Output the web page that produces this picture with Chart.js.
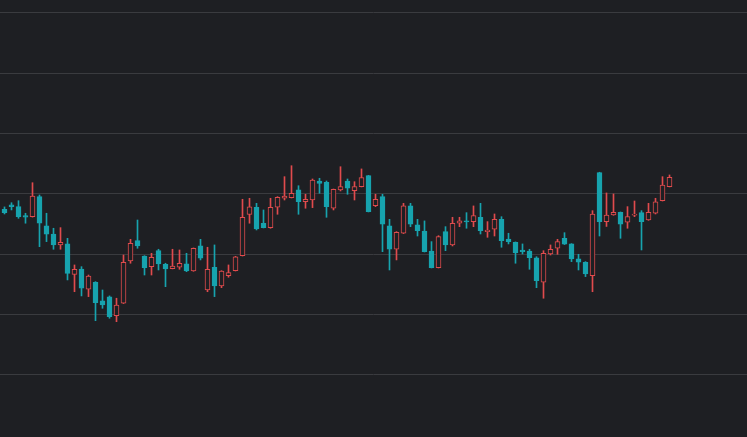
<!DOCTYPE html>
<html>
<head>
<meta charset="utf-8">
<script src="https://cdn.jsdelivr.net/npm/chart.js@4/dist/chart.umd.min.js"></script>
<style>
  html, body { margin: 0; padding: 0; background: #1e1f23; }
  #wrap { width: 747px; height: 437px; position: relative; }
</style>
</head>
<body>
<div id="wrap"><canvas id="chart"></canvas></div>
<script>
// daily candles (red = up, teal = down)
const opens = [
  464.8, 469.1, 467.4, 458.4, 457.4, 477.3, 448.2, 440.2, 429.3, 430.3,
  400.1, 405.4, 385.2, 392.2, 373.6, 377.6, 359.0, 371.3, 413.4, 433.6,
  418.3, 407.7, 423.6, 410.1, 405.7, 407.1, 410.4, 403.4, 428.3, 384.5,
  407.1, 388.5, 398.7, 403.7, 418.6, 459.6, 466.8, 450.9, 446.5, 466.8,
  475.7, 476.3, 484.0, 472.3, 474.0, 492.9, 491.6, 465.8, 484.0, 492.9,
  483.3, 487.3, 498.2, 468.4, 477.3, 448.2, 425.0, 440.9, 468.1, 449.2,
  443.2, 423.3, 406.7, 442.5, 429.3, 450.9, 453.2, 452.5, 456.8, 442.5,
  444.9, 454.8, 435.2, 432.0, 424.3, 423.3, 416.6, 392.2, 420.3, 426.0,
  435.9, 430.3, 415.4, 412.1, 398.7, 501.2, 452.5, 459.1, 461.8, 451.9,
  458.8, 461.4, 454.1, 460.8, 473.3, 487.3
];
const highs = [
  467.1, 471.3, 473.3, 460.8, 491.2, 479.0, 460.8, 445.9, 446.5, 435.9,
  409.4, 407.7, 399.4, 392.8, 384.5, 378.6, 376.3, 419.3, 434.9, 454.1,
  418.6, 421.0, 425.0, 411.1, 425.0, 424.3, 421.0, 426.3, 434.9, 427.0,
  429.3, 403.7, 409.4, 418.0, 474.7, 475.7, 470.7, 464.1, 475.7, 477.3,
  497.2, 508.1, 488.2, 479.7, 494.9, 495.6, 492.9, 484.9, 507.1, 494.9,
  492.2, 504.9, 498.5, 479.7, 479.7, 454.8, 442.5, 470.7, 470.7, 454.8,
  453.2, 432.6, 438.5, 447.5, 456.8, 456.8, 461.4, 468.1, 470.7, 452.5,
  460.1, 457.4, 440.9, 432.3, 430.3, 425.0, 417.6, 423.6, 429.3, 434.9,
  441.5, 430.6, 420.0, 412.7, 463.4, 501.6, 481.0, 480.0, 462.1, 467.4,
  473.0, 463.4, 470.7, 475.7, 497.2, 498.9
];
const lows = [
  460.1, 464.1, 455.8, 450.9, 457.0, 427.6, 432.6, 425.0, 425.0, 394.5,
  382.8, 378.6, 377.9, 354.0, 366.3, 356.4, 353.0, 371.0, 411.1, 426.0,
  399.4, 399.4, 404.4, 387.8, 405.5, 405.1, 402.7, 403.1, 414.4, 382.8,
  377.9, 386.8, 397.2, 403.4, 418.3, 450.9, 444.2, 446.2, 445.9, 459.8,
  474.0, 476.0, 459.8, 465.8, 466.4, 480.7, 456.8, 464.1, 483.0, 479.7,
  474.0, 487.0, 462.1, 467.4, 422.6, 404.4, 414.4, 440.6, 447.5, 438.2,
  422.3, 406.4, 406.4, 423.6, 428.3, 447.5, 445.9, 447.5, 440.2, 436.9,
  438.2, 427.0, 430.3, 411.1, 420.3, 405.1, 386.8, 376.3, 419.3, 420.0,
  429.7, 412.7, 404.4, 397.8, 382.8, 438.2, 447.7, 458.8, 435.9, 445.9,
  457.4, 424.3, 453.8, 460.1, 473.0, 487.0
];
const closes = [
  461.4, 467.4, 457.4, 456.8, 478.0, 450.9, 439.9, 429.3, 432.0, 401.1,
  405.1, 386.2, 398.4, 371.9, 369.6, 358.0, 369.6, 412.1, 431.0, 428.3,
  406.7, 417.0, 410.4, 405.4, 408.4, 411.1, 403.4, 426.0, 416.1, 405.1,
  388.5, 403.4, 401.7, 417.6, 456.8, 467.1, 445.2, 446.5, 466.8, 476.7,
  478.0, 480.7, 472.3, 474.7, 493.9, 490.6, 467.4, 484.7, 487.3, 485.7,
  487.3, 496.4, 462.4, 474.7, 449.9, 425.0, 441.9, 468.1, 449.9, 443.5,
  422.6, 406.7, 437.5, 429.3, 450.9, 453.2, 452.2, 458.4, 443.5, 444.2,
  454.8, 433.6, 432.6, 421.6, 422.6, 416.6, 393.8, 421.0, 425.0, 432.6,
  430.0, 415.4, 412.1, 400.4, 460.1, 452.5, 459.1, 461.8, 449.9, 457.4,
  460.1, 452.5, 461.8, 472.3, 488.9, 496.6
];

const BG = '#1e1f23';
const UP = '#e04b4d';
const DOWN = '#17a3ae';
const GRID = '#3a3b3f';

const isUp = opens.map((o, i) => closes[i] >= o);
const candleColor = isUp.map(u => (u ? UP : DOWN));

const bodies = opens.map((o, i) => ({ x: i, y: [o, closes[i]] }));
const wicks = lows.map((l, i) => ({ x: i, y: [l, highs[i]] }));

// candle i sits at 4.5 + 7*i px, full width of the window
const step = 7;
const xMin = -4.5 / step;
const xMax = xMin + 747 / step;

new Chart(document.getElementById('chart'), {
  type: 'bar',
  data: {
    datasets: [
      {
        label: 'body',
        data: bodies,
        barThickness: 5,
        backgroundColor: isUp.map(u => (u ? BG : DOWN)),
        borderColor: candleColor,
        borderWidth: 1,
        borderSkipped: false,
        grouped: false,
        order: 0,
      },
      {
        label: 'wick',
        data: wicks,
        barThickness: 1,
        backgroundColor: candleColor,
        borderWidth: 0,
        grouped: false,
        order: 1,
      },
    ],
  },
  options: {
    responsive: true,
    maintainAspectRatio: false,
    animation: false,
    layout: { padding: 0 },
    plugins: { legend: { display: false }, tooltip: { enabled: false } },
    scales: {
      x: {
        type: 'linear',
        display: false,
        offset: false,
        bounds: 'ticks',
        min: xMin,
        max: xMax,
      },
      y: {
        min: 238.3,
        max: 672.9,
        border: { display: false },
        ticks: { display: false, stepSize: 60, includeBounds: false },
        grid: {
          drawTicks: false,
          tickLength: 0,
          color: ctx => (ctx.tick && ctx.tick.value >= 300 ? GRID : 'rgba(0,0,0,0)'),
        },
      },
    },
  },
});
</script>
</body>
</html>
